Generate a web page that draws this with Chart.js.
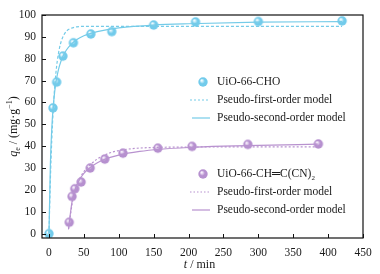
<!DOCTYPE html>
<html><head><meta charset="utf-8">
<script src="https://cdn.jsdelivr.net/npm/chart.js@4/dist/chart.umd.min.js"></script>
<style>html,body{margin:0;padding:0;background:#fff}#wrap{width:380px;height:274px}</style>
</head><body><div id="wrap"><canvas id="c" width="380" height="274"></canvas></div>
<script>
// ---- data ----
const xTicks = [0, 50, 100, 150, 200, 250, 300, 350, 400, 450];
const yTicks = [0, 10, 20, 30, 40, 50, 60, 70, 80, 90, 100];

const choTime = [0, 5.7, 11, 20, 35, 60, 90, 150, 210, 300, 420];
const choQ    = [0, 57.5, 69.3, 81.2, 87.3, 91.3, 92.4, 95.4, 96.8, 97.0, 97.3];

const choPfoTime = [0, 2, 4, 6, 8, 10, 12, 15, 18, 21, 25, 30, 40, 50, 70, 100, 150, 200, 300, 420];
const choPfoQ    = [0, 24.6, 42.8, 56.3, 66.3, 73.7, 79.2, 84.8, 88.4, 90.7, 92.6, 93.7, 94.6, 94.8, 94.8, 94.8, 94.8, 94.8, 94.8, 94.8];

const choPsoTime = [0, 2, 4, 6, 8, 10, 12, 15, 20, 25, 30, 40, 50, 60, 80, 100, 150, 200, 300, 420];
const choPsoQ    = [0, 31.8, 48.0, 57.8, 64.4, 69.2, 72.7, 76.7, 81.1, 84.0, 86.0, 88.8, 90.5, 91.6, 93.1, 94.1, 95.4, 96.0, 96.7, 97.0];

const cnTime = [29, 33, 37, 46, 59, 80, 106, 156, 205, 285, 386];
const cnQ    = [5.2, 17.0, 20.5, 23.6, 30.0, 34.1, 36.8, 39.1, 39.9, 40.8, 41.0];

const cnPfoTime = [28, 29, 31, 33, 35, 37, 40, 45, 50, 59, 70, 80, 90, 100, 120, 150, 200, 300, 385];
const cnPfoQ    = [2, 4.5, 9, 13.5, 16.8, 19.3, 22.3, 25.8, 28.3, 31.5, 34.3, 36.0, 37.2, 38.0, 38.9, 39.4, 39.6, 39.7, 39.7];

const cnPsoTime = [28, 29, 31, 33, 35, 37, 40, 45, 50, 59, 70, 80, 100, 130, 160, 200, 250, 300, 385];
const cnPsoQ    = [2, 5, 10, 14.5, 17.5, 19.8, 22.3, 25.3, 27.6, 30.2, 32.5, 34.0, 35.9, 37.6, 38.6, 39.4, 40.0, 40.4, 40.9];

const seriesNames = ['UiO-66-CHO', 'UiO-66-CH\u2550C(CN)', 'Pseudo-first-order model', 'Pseudo-second-order model'];

// ---- styling ----
const CYAN = '#74cbe8', PURPLE = '#b892cf';
const FONT = '"Liberation Serif","Times New Roman",serif';

function sphere(base, hi, r) {
  const c = document.createElement('canvas');
  const s = Math.ceil(r * 2 + 2);
  c.width = s; c.height = s;
  const g = c.getContext('2d');
  const cx = s / 2, cy = s / 2;
  const grad = g.createRadialGradient(cx - r * 0.3, cy - r * 0.35, 0.5, cx, cy, r);
  grad.addColorStop(0, hi);
  grad.addColorStop(0.5, base);
  grad.addColorStop(1, base);
  g.fillStyle = grad;
  g.beginPath(); g.arc(cx, cy, r, 0, Math.PI * 2); g.fill();
  return c;
}
const cyanBall = sphere('#72cbeb', '#f4fcff', 4.7);
const purpleBall = sphere('#b690cf', '#f8f1fc', 4.7);

const zip = (xs, ys) => xs.map((x, i) => ({x, y: ys[i]}));

function lineDs(xs, ys, color, dash) {
  return {
    type: 'line', data: zip(xs, ys), showLine: true, borderColor: color,
    borderWidth: 1.2, borderDash: dash, pointRadius: 0, fill: false,
    cubicInterpolationMode: 'monotone'
  };
}

function drawRich(ctx, parts, x, y) {
  let total = 0;
  parts.forEach(p => { ctx.font = p.font; p.w = ctx.measureText(p.t).width; total += p.w; });
  let cx = x - total / 2;
  ctx.textAlign = 'left'; ctx.textBaseline = 'alphabetic';
  parts.forEach(p => { ctx.font = p.font; ctx.fillText(p.t, cx, y + (p.dy || 0)); cx += p.w; });
}

const decor = {
  id: 'decor',
  afterDraw(chart) {
    const ctx = chart.ctx, a = chart.chartArea;
    const xs = chart.scales.x, ys = chart.scales.y;
    ctx.save();
    ctx.strokeStyle = '#111'; ctx.lineWidth = 1.2;
    ctx.strokeRect(a.left, a.top, a.right - a.left, a.bottom - a.top);
    ctx.lineWidth = 1;
    ctx.beginPath();
    xTicks.forEach(v => { const px = Math.round(xs.getPixelForValue(v)) + 0.5; ctx.moveTo(px, a.bottom); ctx.lineTo(px, a.bottom - 4); });
    yTicks.forEach(v => { const py = Math.round(ys.getPixelForValue(v)) + 0.5; ctx.moveTo(a.left, py); ctx.lineTo(a.left + 4, py); });
    ctx.stroke();

    ctx.fillStyle = '#1a1a1a';
    // x title
    drawRich(ctx, [
      {t: 't', font: 'italic 12px ' + FONT},
      {t: ' / min', font: '12px ' + FONT}
    ], (a.left + a.right) / 2 - 3, 268);
    // y title
    ctx.save();
    ctx.translate(17, (a.top + a.bottom) / 2);
    ctx.rotate(-Math.PI / 2);
    drawRich(ctx, [
      {t: 'q', font: 'italic 12px ' + FONT},
      {t: 'e', font: '8px ' + FONT, dy: 3},
      {t: ' / (mg\u00b7g', font: '12px ' + FONT},
      {t: '\u22121', font: '8px ' + FONT, dy: -5},
      {t: ')', font: '12px ' + FONT}
    ], 0, 0);
    ctx.restore();

    // legends
    const legend = (y0, ball, color, dash, label, sub) => {
      ctx.drawImage(ball, 203 - ball.width / 2, y0 - ball.height / 2);
      ctx.font = '11.5px ' + FONT; ctx.textAlign = 'left'; ctx.textBaseline = 'middle';
      ctx.fillText(label, 217, y0);
      if (sub) {
        const w = ctx.measureText(label).width;
        ctx.font = '7px ' + FONT;
        ctx.fillText(sub, 217 + w, y0 + 4);
        ctx.font = '11.5px ' + FONT;
      }
      const l1 = y0 + 18, l2 = y0 + 36;
      ctx.strokeStyle = color; ctx.lineWidth = 1.2;
      ctx.setLineDash(dash);
      ctx.beginPath(); ctx.moveTo(190, l1); ctx.lineTo(210, l1); ctx.stroke();
      ctx.setLineDash([]);
      ctx.beginPath(); ctx.moveTo(192, l2); ctx.lineTo(210, l2); ctx.stroke();
      ctx.fillStyle = '#1a1a1a';
      ctx.fillText(seriesNames[2], 217, l1);
      ctx.fillText(seriesNames[3], 217, l2);
    };
    legend(82, cyanBall, CYAN, [2, 2], seriesNames[0], null);
    legend(174, purpleBall, PURPLE, [1.5, 2], seriesNames[1], '2');
    ctx.restore();
  }
};

new Chart(document.getElementById('c'), {
  type: 'scatter',
  data: {
    datasets: [
      lineDs(choPfoTime, choPfoQ, CYAN, [3, 2]),
      lineDs(choPsoTime, choPsoQ, CYAN, []),
      lineDs(cnPfoTime, cnPfoQ, PURPLE, [2, 2]),
      lineDs(cnPsoTime, cnPsoQ, PURPLE, []),
      {data: zip(choTime, choQ), pointStyle: cyanBall, pointRadius: 4.7, showLine: false},
      {data: zip(cnTime, cnQ), pointStyle: purpleBall, pointRadius: 4.7, showLine: false}
    ]
  },
  options: {
    responsive: false, animation: false, devicePixelRatio: 1,
    layout: {padding: {top: 15, right: 17, left: 0, bottom: 0}},
    plugins: {legend: {display: false}, tooltip: {enabled: false}},
    scales: {
      x: {
        type: 'linear', min: -10, max: 450,
        grid: {display: false, drawTicks: false}, border: {display: false},
        afterBuildTicks: s => { s.ticks = xTicks.map(v => ({value: v})); },
        afterFit: s => { s.height = 36; },
        ticks: {padding: 8, color: '#1a1a1a', font: {family: FONT, size: 11.5}, maxRotation: 0, autoSkip: false}
      },
      y: {
        type: 'linear', min: -2, max: 100,
        grid: {display: false, drawTicks: false}, border: {display: false},
        afterBuildTicks: s => { s.ticks = yTicks.map(v => ({value: v})); },
        afterFit: s => { s.width = 42; },
        ticks: {padding: 6, color: '#1a1a1a', font: {family: FONT, size: 11.5}, autoSkip: false}
      }
    }
  },
  plugins: [decor]
});
</script></body></html>
